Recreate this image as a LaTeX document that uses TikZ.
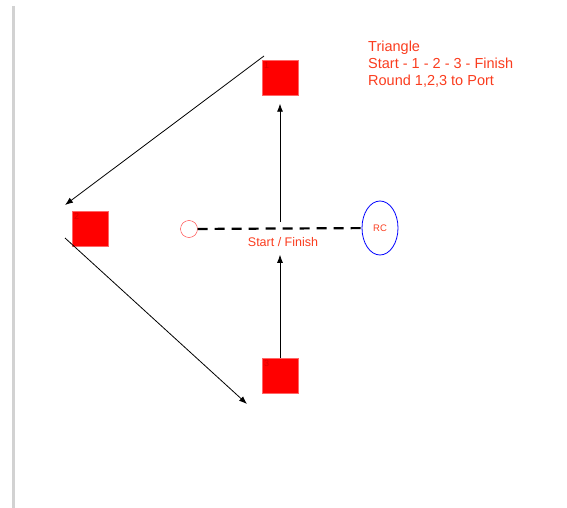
\documentclass[tikz,border=0pt]{standalone}
\usepackage{fontspec}
\setmainfont{Liberation Sans}
\usetikzlibrary{arrows.meta}
\usetikzlibrary{shapes.geometric}
\definecolor{notered}{RGB}{250,60,30}

\begin{document}
\begin{tikzpicture}[x=1pt, y=-1pt,
	>={Latex[width=6pt,length=8pt]},
    buoy/.style = {rectangle, fill=red, draw=red!60!white, line width=0.4pt,
                   minimum width=36pt, minimum height=35pt, inner sep=1pt},
    buoynum/.style = {anchor=north west, text=red!85!black,
                   font=\fontsize{9}{9}\selectfont, inner sep=2pt},
    course/.style = {->, line width=0.8pt},
    note/.style = {text=notered, inner sep=0pt}]
  \useasboundingbox (0,0) rectangle (567,508);
  % margin rule
  \draw[gray!35, line width=3pt] (13,6) -- (13,508);

  \node (top) [buoy] at (280,78) {};
  \node (left) [buoy] at (90,229) {};
  \node (bottom) [buoy] at (280,376) {};
  \node (num1) [buoynum] at (top.north west) {1};
  \node (num2) [buoynum] at (left.north west) {2};
  \node (num3) [buoynum] at (bottom.north west) {3};

  \node (pin) [circle, draw=red!80!white, minimum size=17pt, inner sep=0pt] at (189,229) {};
  \node (rc) [ellipse, draw=blue, line width=0.8pt, minimum width=36pt, minimum height=54pt,
              note, font=\fontsize{9.5}{9.5}\selectfont] at (380,228) {RC};
  \node (finish) [note, font=\fontsize{12.5}{12.5}\selectfont] at (283,242) {Start / Finish};
  \node (info) [note, anchor=north west, align=left, font=\fontsize{14.5}{17}\selectfont] at (368,41)
    {Triangle\\Start - 1 - 2 - 3 - Finish\\Round 1,2,3 to Port};

  \coordinate (gate) at (280,222);
  \coordinate (leg1) at (264,56);
  \coordinate (leg2a) at (65,205);
  \coordinate (leg2b) at (65,238);
  \coordinate (leg3) at (247,404);

  \draw[line width=2.2pt, dash pattern=on 10pt off 7pt] (pin) -- (rc);
  \draw[course] (gate) -- ([yshift=-8pt]top.south);
  \draw[course] (bottom.north) -- ([yshift=-8pt]bottom.north |- finish.south);
  \draw[course] (leg1) -- (leg2a);
  \draw[course] (leg2b) -- (leg3);
\end{tikzpicture}
\end{document}
